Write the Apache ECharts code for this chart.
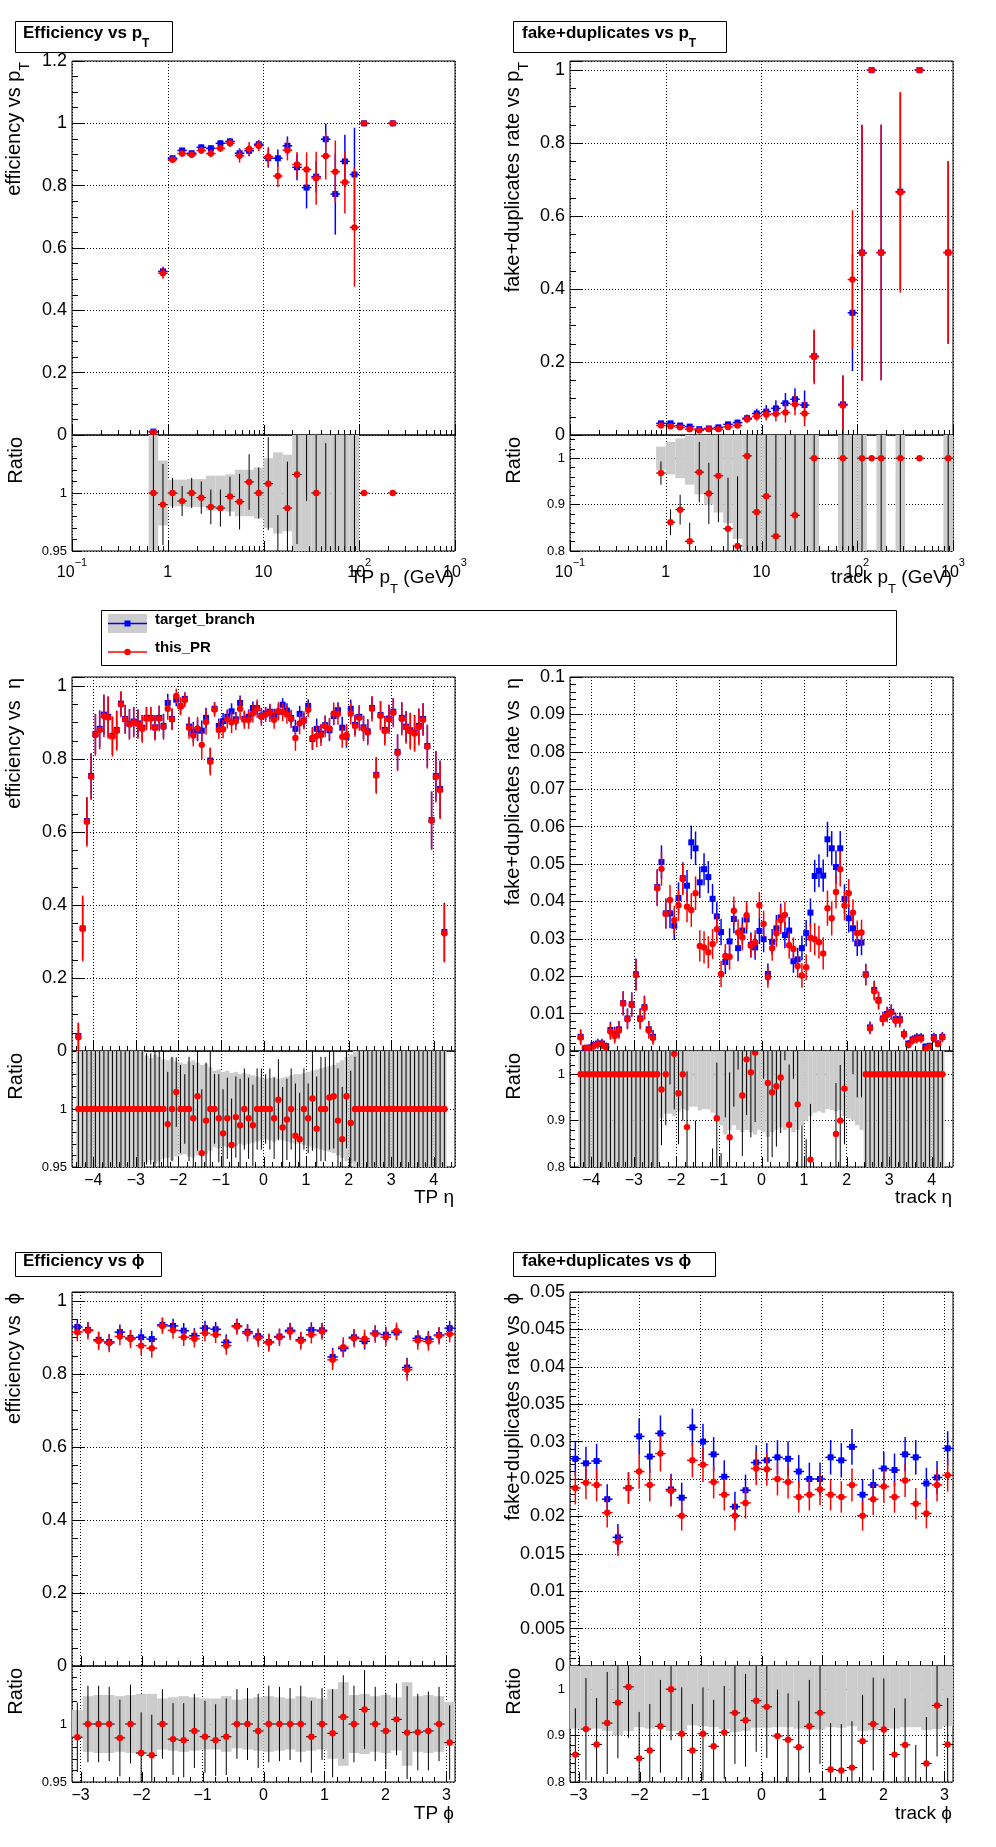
<!DOCTYPE html>
<html>
<head>
<meta charset="utf-8">
<title>tracking validation</title>
<script src="https://cdn.jsdelivr.net/npm/echarts@6.0.0/dist/echarts.min.js"></script>
<style>
  html, body { margin: 0; padding: 0; background: #fff; }
  #chart { width: 996px; height: 1847px; }
</style>
</head>
<body>
<div id="chart"></div>
<script>
// target_branch vs this_PR, efficiency and fake+duplicates rate
var FONT = '"Liberation Sans", Arial, Helvetica, sans-serif';
var BLUE = '#0000ff';
var RED = '#ff0000';
var BAND = '#cccccc';

// ---- pT (GeV), bins 0.1 wide in log10
var ptBinsEff = [0.708, 0.891, 1.122, 1.413, 1.778, 2.239, 2.818, 3.548, 4.467, 5.623, 7.079, 8.913,
  11.22, 14.13, 17.78, 22.39, 28.18, 35.48, 44.67, 56.23, 70.79, 89.13, 112.2, 223.9];
var effPtTarget = [0.011, 0.525, 0.888, 0.913, 0.904, 0.923, 0.920, 0.936, 0.942, 0.904, 0.912, 0.933,
  0.888, 0.888, 0.928, 0.859, 0.794, 0.829, 0.949, 0.773, 0.878, 0.836, 1.0, 1.0];
var effPtTargetErr = [0.004, 0.015, 0.008, 0.008, 0.009, 0.009, 0.010, 0.010, 0.011, 0.016, 0.018, 0.014,
  0.030, 0.028, 0.030, 0.042, 0.067, 0.050, 0.050, 0.130, 0.085, 0.150, 0, 0];
var effPtPR = [0.009, 0.519, 0.883, 0.903, 0.899, 0.913, 0.903, 0.920, 0.936, 0.896, 0.918, 0.928,
  0.893, 0.831, 0.914, 0.868, 0.852, 0.824, 0.895, 0.845, 0.811, 0.666, 1.0, 1.0];
var effPtPRErr = [0.006, 0.018, 0.009, 0.010, 0.010, 0.011, 0.012, 0.012, 0.012, 0.022, 0.022, 0.017,
  0.031, 0.036, 0.033, 0.040, 0.055, 0.085, 0.075, 0.100, 0.100, 0.190, 0, 0];
var effPtRatio = [1.0, 0.990, 1.0, 0.993, 1.0, 0.996, 0.988, 0.987, 0.997, 0.9925, 1.0095, 1.0,
  1.008, 0.936, 0.987, 1.016, 1.073, 1.0, 0.943, 1.093, 0.924, 0.797, 1.0, 1.0];
var effPtRatioErr = [1.0, 0.035, 0.013, 0.013, 0.013, 0.014, 0.015, 0.016, 0.017, 0.024, 0.024, 0.022,
  0.040, 0.045, 0.040, 0.060, 0.080, 0.120, 0.100, 0.150, 0.140, 0.300, 0, 0];
var effPtBand = [1.0, 0.028, 0.0115, 0.0115, 0.012, 0.012, 0.015, 0.015, 0.016, 0.020, 0.020, 0.022,
  0.030, 0.035, 0.033, 0.060, 0.090, 0.070, 0.060, 0.180, 0.100, 0.200, 0, 0];

var ptBinsFake = [0.891, 1.122, 1.413, 1.778, 2.239, 2.818, 3.548, 4.467, 5.623, 7.079, 8.913, 11.22,
  14.13, 17.78, 22.39, 28.18, 35.48, 70.79, 89.13, 112.2, 141.3, 177.8, 281.8, 446.7, 891.3];
var fakePtTarget = [0.032, 0.032, 0.026, 0.023, 0.016, 0.018, 0.021, 0.029, 0.034, 0.046, 0.059, 0.064,
  0.073, 0.087, 0.098, 0.082, 0.216, 0.084, 0.335, 0.5, 1.0, 0.5, 0.667, 1.0, 0.5];
var fakePtTargetErr = [0.004, 0.004, 0.004, 0.004, 0.004, 0.005, 0.006, 0.007, 0.008, 0.010, 0.013, 0.018,
  0.022, 0.028, 0.030, 0.040, 0.070, 0.080, 0.160, 0.350, 0, 0.350, 0.270, 0, 0.250];
var fakePtPR = [0.026, 0.024, 0.021, 0.016, 0.013, 0.016, 0.016, 0.022, 0.026, 0.043, 0.051, 0.056,
  0.058, 0.062, 0.084, 0.059, 0.214, 0.081, 0.426, 0.498, 1.0, 0.5, 0.665, 1.0, 0.5];
var fakePtPRErr = [0.004, 0.004, 0.004, 0.004, 0.004, 0.005, 0.005, 0.006, 0.007, 0.010, 0.012, 0.016,
  0.020, 0.028, 0.030, 0.035, 0.075, 0.080, 0.190, 0.350, 0, 0.350, 0.275, 0, 0.250];
var fakePtRatio = [0.968, 0.862, 0.889, 0.821, 0.970, 0.924, 0.962, 0.848, 0.811, 1.005, 0.884, 0.918,
  0.832, 0.71, 0.877, 0.72, 1.0, 1.0, 1.27, 1.0, 1.0, 1.0, 1.0, 1.0, 1.0];
var fakePtRatioErr = [0.025, 0.028, 0.032, 0.040, 0.065, 0.066, 0.10, 0.11, 0.15, 0.30, 0.30, 0.30,
  0.30, 0.35, 0.35, 0.40, 0.45, 1.0, 1.0, 1.0, 0, 1.0, 0.60, 0, 0.70];
var fakePtBand = [0.025, 0.035, 0.043, 0.057, 0.078, 0.100, 0.117, 0.140, 0.174, 0.25, 0.30, 0.30,
  0.35, 0.40, 0.40, 0.50, 0.40, 1.0, 0.50, 0.70, 0, 0.70, 0.40, 0, 0.50];

// ---- eta, bins 0.1 wide
var etaBins = [-4.35, -4.25, -4.15, -4.05, -3.95, -3.85, -3.75, -3.65, -3.55, -3.45,
  -3.35, -3.25, -3.15, -3.05, -2.95, -2.85, -2.75, -2.65, -2.55, -2.45,
  -2.35, -2.25, -2.15, -2.05, -1.95, -1.85, -1.75, -1.65, -1.55, -1.45,
  -1.35, -1.25, -1.15, -1.05, -0.95, -0.85, -0.75, -0.65, -0.55, -0.45,
  -0.35, -0.25, -0.15, -0.05, 0.05, 0.15, 0.25, 0.35, 0.45, 0.55,
  0.65, 0.75, 0.85, 0.95, 1.05, 1.15, 1.25, 1.35, 1.45, 1.55,
  1.65, 1.75, 1.85, 1.95, 2.05, 2.15, 2.25, 2.35, 2.45, 2.55,
  2.65, 2.75, 2.85, 2.95, 3.05, 3.15, 3.25, 3.35, 3.45, 3.55,
  3.65, 3.75, 3.85, 3.95, 4.05, 4.15, 4.25];
var effEtaTarget = [0.041, 0.336, 0.630, 0.754, 0.869, 0.883, 0.922, 0.916, 0.864, 0.880,
  0.952, 0.910, 0.897, 0.903, 0.898, 0.886, 0.913, 0.913, 0.887, 0.913,
  0.891, 0.954, 0.910, 0.963, 0.945, 0.965, 0.889, 0.874, 0.879, 0.878,
  0.913, 0.796, 0.938, 0.891, 0.904, 0.916, 0.931, 0.909, 0.954, 0.910,
  0.916, 0.940, 0.940, 0.919, 0.925, 0.930, 0.918, 0.930, 0.949, 0.933,
  0.913, 0.883, 0.924, 0.906, 0.946, 0.855, 0.883, 0.870, 0.893, 0.879,
  0.918, 0.934, 0.886, 0.861, 0.938, 0.894, 0.916, 0.887, 0.876, 0.940,
  0.757, 0.921, 0.880, 0.911, 0.930, 0.820, 0.913, 0.889, 0.879, 0.873,
  0.891, 0.910, 0.836, 0.633, 0.754, 0.718, 0.326];
var effEtaTargetErr = [0.035, 0.085, 0.065, 0.062, 0.055, 0.050, 0.055, 0.055, 0.052, 0.052,
  0.033, 0.038, 0.040, 0.040, 0.038, 0.035, 0.030, 0.030, 0.033, 0.033,
  0.033, 0.025, 0.028, 0.018, 0.022, 0.018, 0.025, 0.028, 0.030, 0.028,
  0.028, 0.035, 0.018, 0.020, 0.022, 0.020, 0.022, 0.020, 0.020, 0.020,
  0.020, 0.018, 0.018, 0.020, 0.018, 0.020, 0.020, 0.020, 0.018, 0.020,
  0.020, 0.025, 0.022, 0.020, 0.018, 0.030, 0.028, 0.025, 0.025, 0.030,
  0.025, 0.022, 0.030, 0.030, 0.025, 0.028, 0.030, 0.032, 0.033, 0.030,
  0.048, 0.038, 0.038, 0.038, 0.037, 0.048, 0.043, 0.043, 0.048, 0.048,
  0.048, 0.043, 0.058, 0.078, 0.068, 0.078, 0.080];
var effEtaPR = [0.038, 0.336, 0.628, 0.752, 0.866, 0.880, 0.918, 0.914, 0.862, 0.878,
  0.950, 0.909, 0.895, 0.901, 0.896, 0.883, 0.911, 0.911, 0.886, 0.911,
  0.888, 0.938, 0.909, 0.973, 0.945, 0.962, 0.886, 0.865, 0.884, 0.839,
  0.902, 0.793, 0.936, 0.880, 0.882, 0.909, 0.901, 0.904, 0.938, 0.908,
  0.908, 0.925, 0.938, 0.916, 0.922, 0.927, 0.908, 0.931, 0.929, 0.922,
  0.910, 0.858, 0.898, 0.906, 0.935, 0.858, 0.863, 0.866, 0.890, 0.883,
  0.925, 0.924, 0.861, 0.866, 0.925, 0.891, 0.913, 0.884, 0.873, 0.938,
  0.755, 0.919, 0.877, 0.909, 0.927, 0.817, 0.910, 0.887, 0.876, 0.870,
  0.888, 0.908, 0.834, 0.631, 0.751, 0.715, 0.323];
var effEtaPRErr = [0.040, 0.090, 0.068, 0.064, 0.057, 0.053, 0.058, 0.058, 0.055, 0.055,
  0.035, 0.040, 0.042, 0.042, 0.040, 0.038, 0.032, 0.032, 0.035, 0.035,
  0.035, 0.030, 0.030, 0.020, 0.025, 0.020, 0.030, 0.030, 0.032, 0.040,
  0.035, 0.038, 0.020, 0.025, 0.025, 0.025, 0.030, 0.025, 0.030, 0.025,
  0.025, 0.025, 0.025, 0.025, 0.020, 0.025, 0.025, 0.025, 0.025, 0.025,
  0.025, 0.035, 0.030, 0.025, 0.020, 0.030, 0.030, 0.030, 0.030, 0.030,
  0.030, 0.030, 0.030, 0.030, 0.030, 0.030, 0.035, 0.035, 0.035, 0.035,
  0.050, 0.040, 0.040, 0.040, 0.040, 0.050, 0.045, 0.045, 0.050, 0.050,
  0.050, 0.045, 0.060, 0.080, 0.070, 0.080, 0.080];
var effEtaRatio = [1, 1, 1, 1, 1, 1, 1, 1, 1, 1,
  1, 1, 1, 1, 1, 1, 1, 1, 1, 1,
  1, 0.987, 1.0, 1.0146, 1.0, 1.0, 1.0, 0.992, 1.011, 0.962,
  0.990, 1.0, 1.0, 0.992, 0.979, 0.992, 0.969, 0.993, 0.986, 1.0,
  0.992, 0.986, 1.0, 1.0, 1.0, 1.0, 0.992, 1.008, 0.984, 0.991,
  1.0, 0.977, 0.974, 1.0, 0.992, 1.009, 0.983, 1.0, 1.0, 1.01,
  1.011, 0.99, 0.974, 1.011, 0.988, 1, 1, 1, 1, 1,
  1, 1, 1, 1, 1, 1, 1, 1, 1, 1,
  1, 1, 1, 1, 1, 1, 1];
var effEtaRatioErr = [0.10, 0.10, 0.10, 0.09, 0.08, 0.075, 0.08, 0.08, 0.075, 0.075,
  0.05, 0.06, 0.06, 0.06, 0.06, 0.055, 0.048, 0.048, 0.05, 0.05,
  0.05, 0.045, 0.045, 0.03, 0.038, 0.03, 0.045, 0.046, 0.047, 0.055,
  0.05, 0.06, 0.03, 0.038, 0.038, 0.035, 0.04, 0.035, 0.04, 0.035,
  0.035, 0.035, 0.035, 0.035, 0.03, 0.035, 0.035, 0.035, 0.035, 0.035,
  0.035, 0.045, 0.04, 0.035, 0.03, 0.045, 0.045, 0.045, 0.045, 0.045,
  0.045, 0.045, 0.045, 0.045, 0.045, 0.045, 0.05, 0.05, 0.05, 0.05,
  0.08, 0.055, 0.055, 0.055, 0.055, 0.07, 0.06, 0.06, 0.07, 0.07,
  0.07, 0.06, 0.08, 0.15, 0.10, 0.12, 0.30];
var effEtaBand = [0.1, 0.1, 0.1, 0.1, 0.1, 0.1, 0.1, 0.1, 0.1, 0.1,
  0.1, 0.1, 0.1, 0.1, 0.1, 0.1, 0.046, 0.044, 0.047, 0.045,
  0.043, 0.042, 0.044, 0.041, 0.040, 0.039, 0.041, 0.042, 0.040, 0.038,
  0.039, 0.036, 0.033, 0.034, 0.032, 0.033, 0.031, 0.032, 0.030, 0.031,
  0.030, 0.029, 0.028, 0.027, 0.026, 0.027, 0.028, 0.026, 0.027, 0.028,
  0.029, 0.030, 0.030, 0.031, 0.032, 0.033, 0.034, 0.035, 0.036, 0.037,
  0.038, 0.040, 0.042, 0.045, 0.047, 0.050, 0.1, 0.1, 0.1, 0.1,
  0.1, 0.1, 0.1, 0.1, 0.1, 0.1, 0.1, 0.1, 0.1, 0.1,
  0.1, 0.1, 0.1, 0.1, 0.1, 0.1, 0.1];

var fakeEtaTarget = [null, 0.0038, 0.0007, 0.0009, 0.0016, 0.0020, 0.0020, 0.0013, 0.0056, 0.0045,
  0.0058, 0.0128, 0.0087, 0.0125, 0.0205, 0.0087, 0.0117, 0.0058, 0.0038, 0.0438,
  0.0505, 0.0368, 0.0368, 0.0335, 0.0409, 0.0462, 0.0442, 0.0558, 0.0542, 0.0451,
  0.0486, 0.0465, 0.0407, 0.0360, 0.0318, 0.0238, 0.0293, 0.0353, 0.0275, 0.0322,
  0.0352, 0.0284, 0.0277, 0.0321, 0.0299, 0.0206, 0.0292, 0.0328, 0.0357, 0.0310,
  0.0322, 0.0240, 0.0245, 0.0275, 0.0315, 0.0370, 0.0468, 0.0482, 0.0469, 0.0566,
  0.0542, 0.0492, 0.0542, 0.0406, 0.0355, 0.0328, 0.0288, 0.0290, 0.0205, 0.0063,
  0.0163, 0.0136, 0.0087, 0.0099, 0.0105, 0.0085, 0.0085, 0.0045, 0.0020, 0.0031,
  0.0036, 0.0036, 0.0012, 0.0014, 0.0037, 0.0020, 0.0038];
var fakeEtaPR = [null, 0.0036, 0.0009, 0.0009, 0.0013, 0.0019, 0.0018, 0.0010, 0.0052, 0.0040,
  0.0055, 0.0127, 0.0085, 0.0123, 0.0203, 0.0085, 0.0115, 0.0055, 0.0035, 0.0435,
  0.0487, 0.0367, 0.0404, 0.0350, 0.0390, 0.0460, 0.0386, 0.0377, 0.0422, 0.0281,
  0.0277, 0.0264, 0.0286, 0.0326, 0.0206, 0.0254, 0.0252, 0.0375, 0.0317, 0.0304,
  0.0363, 0.0282, 0.0290, 0.0390, 0.0340, 0.0197, 0.0275, 0.0315, 0.0350, 0.0364,
  0.0283, 0.0273, 0.0227, 0.0202, 0.0224, 0.0303, 0.0299, 0.0291, 0.0261, 0.0382,
  0.0355, 0.0425, 0.0486, 0.0389, 0.0422, 0.0370, 0.0315, 0.0317, 0.0203, 0.0061,
  0.0160, 0.0134, 0.0085, 0.0096, 0.0103, 0.0081, 0.0081, 0.0044, 0.0016, 0.0028,
  0.0032, 0.0033, 0.0007, 0.0012, 0.0034, 0.0019, 0.0036];
var fakeEtaErr = [null, 0.0020, 0.0007, 0.0008, 0.0011, 0.0013, 0.0013, 0.0010, 0.0022, 0.0020,
  0.0022, 0.0032, 0.0027, 0.0032, 0.0042, 0.0027, 0.0031, 0.0022, 0.0018, 0.0048,
  0.0045, 0.0040, 0.0040, 0.0038, 0.0042, 0.0043, 0.0042, 0.0045, 0.0045, 0.0042,
  0.0043, 0.0043, 0.0040, 0.0038, 0.0035, 0.0032, 0.0035, 0.0038, 0.0035, 0.0035,
  0.0038, 0.0033, 0.0033, 0.0035, 0.0035, 0.0028, 0.0034, 0.0036, 0.0037, 0.0035,
  0.0036, 0.0031, 0.0031, 0.0033, 0.0035, 0.0038, 0.0043, 0.0044, 0.0043, 0.0047,
  0.0046, 0.0044, 0.0046, 0.0040, 0.0038, 0.0036, 0.0034, 0.0034, 0.0028, 0.0016,
  0.0025, 0.0023, 0.0018, 0.0019, 0.0020, 0.0018, 0.0018, 0.0013, 0.0009, 0.0011,
  0.0012, 0.0012, 0.0007, 0.0008, 0.0012, 0.0009, 0.0013];
var fakeEtaRatio = [null, 1, 1, 1, 1, 1, 1, 1, 1, 1,
  1, 1, 1, 1, 1, 1, 1, 1, 1, 1,
  0.967, 1.0, 1.098, 1.044, 0.959, 1.0, 0.886, 0.676, 0.78, 0.62,
  0.57, 0.57, 0.70, 0.905, 0.65, 1.067, 0.864, 1.06, 1.15, 0.954,
  1.032, 1.004, 1.047, 1.21, 1.14, 0.981, 0.961, 0.974, 0.993, 1.17,
  0.891, 1.14, 0.935, 0.73, 0.71, 0.816, 0.64, 0.60, 0.56, 0.67,
  0.65, 0.871, 0.9, 0.969, 1.19, 1.13, 1.09, 1.09, 1, 1,
  1, 1, 1, 1, 1, 1, 1, 1, 1, 1,
  1, 1, 1, 1, 1, 1, 1];
var fakeEtaRatioErr = [null, 0.5, 0.5, 0.5, 0.5, 0.5, 0.5, 0.5, 0.5, 0.5,
  0.5, 0.5, 0.5, 0.5, 0.5, 0.5, 0.5, 0.5, 0.5, 0.5,
  0.12, 0.11, 0.12, 0.12, 0.11, 0.10, 0.12, 0.12, 0.12, 0.15,
  0.15, 0.16, 0.14, 0.12, 0.18, 0.16, 0.14, 0.13, 0.14, 0.13,
  0.12, 0.14, 0.15, 0.14, 0.15, 0.17, 0.14, 0.13, 0.12, 0.14,
  0.13, 0.15, 0.15, 0.16, 0.15, 0.12, 0.12, 0.12, 0.12, 0.11,
  0.12, 0.11, 0.12, 0.12, 0.13, 0.13, 0.14, 0.14, 0.5, 0.5,
  0.5, 0.5, 0.5, 0.5, 0.5, 0.5, 0.5, 0.5, 0.5, 0.5,
  0.5, 0.5, 0.5, 0.5, 0.5, 0.5, 0.5];
var fakeEtaBand = [null, 1, 1, 1, 1, 1, 1, 1, 1, 1,
  1, 1, 1, 1, 1, 1, 1, 1, 1, 1,
  0.095, 0.085, 0.085, 0.09, 0.08, 0.075, 0.078, 0.07, 0.07, 0.078,
  0.075, 0.076, 0.083, 0.095, 0.11, 0.13, 0.12, 0.11, 0.12, 0.125,
  0.12, 0.125, 0.13, 0.12, 0.125, 0.135, 0.125, 0.12, 0.115, 0.12,
  0.115, 0.125, 0.12, 0.11, 0.10, 0.09, 0.083, 0.08, 0.083, 0.075,
  0.077, 0.08, 0.077, 0.09, 0.095, 0.10, 0.11, 0.12, 1, 1,
  1, 1, 1, 1, 1, 1, 1, 1, 1, 1,
  1, 1, 1, 1, 1, 1, 1];

// ---- phi, 36 bins over [-pi, pi]
var phiBins = [-3.054, -2.880, -2.705, -2.531, -2.356, -2.182, -2.007, -1.833, -1.658, -1.484,
  -1.309, -1.134, -0.960, -0.785, -0.611, -0.436, -0.262, -0.087, 0.087, 0.262,
  0.436, 0.611, 0.785, 0.960, 1.134, 1.309, 1.484, 1.658, 1.833, 2.007,
  2.182, 2.356, 2.531, 2.705, 2.880, 3.054];
var effPhiTarget = [0.929, 0.921, 0.894, 0.888, 0.915, 0.899, 0.901, 0.896, 0.935, 0.932,
  0.919, 0.905, 0.926, 0.923, 0.887, 0.932, 0.916, 0.904, 0.888, 0.903,
  0.920, 0.894, 0.921, 0.920, 0.847, 0.870, 0.901, 0.890, 0.912, 0.908,
  0.914, 0.818, 0.898, 0.896, 0.907, 0.926];
var effPhiTargetErr = [0.022, 0.021, 0.022, 0.022, 0.021, 0.022, 0.022, 0.022, 0.020, 0.020,
  0.021, 0.021, 0.020, 0.020, 0.022, 0.020, 0.021, 0.021, 0.022, 0.021,
  0.021, 0.022, 0.021, 0.021, 0.025, 0.024, 0.022, 0.023, 0.021, 0.022,
  0.021, 0.027, 0.022, 0.022, 0.021, 0.020];
var effPhiPR = [0.915, 0.919, 0.891, 0.885, 0.903, 0.896, 0.878, 0.871, 0.932, 0.920,
  0.901, 0.897, 0.912, 0.908, 0.878, 0.930, 0.912, 0.899, 0.886, 0.901,
  0.916, 0.891, 0.908, 0.917, 0.839, 0.874, 0.898, 0.897, 0.910, 0.901,
  0.918, 0.812, 0.892, 0.889, 0.905, 0.910];
var effPhiPRErr = [0.025, 0.024, 0.025, 0.025, 0.024, 0.025, 0.026, 0.026, 0.022, 0.023,
  0.024, 0.024, 0.023, 0.023, 0.025, 0.022, 0.023, 0.024, 0.025, 0.024,
  0.023, 0.024, 0.024, 0.023, 0.028, 0.027, 0.025, 0.025, 0.024, 0.025,
  0.023, 0.030, 0.025, 0.025, 0.024, 0.023];
var effPhiRatio = [0.9886, 1.0, 1.0, 1.0, 0.988, 1.0, 0.975, 0.973, 1.0, 0.987,
  0.986, 0.994, 0.989, 0.986, 0.989, 1.0, 1.0, 0.994, 1.0, 1.0,
  1.0, 1.0, 0.989, 1.0, 0.992, 1.006, 1.0, 1.0125, 1.0, 0.994,
  1.004, 0.9926, 0.993, 0.994, 1.0, 0.984];
var effPhiRatioErr = [0.030, 0.033, 0.033, 0.032, 0.033, 0.034, 0.035, 0.035, 0.030, 0.031,
  0.032, 0.032, 0.031, 0.031, 0.033, 0.030, 0.031, 0.032, 0.033, 0.032,
  0.031, 0.033, 0.031, 0.031, 0.038, 0.036, 0.033, 0.034, 0.032, 0.033,
  0.031, 0.040, 0.033, 0.034, 0.032, 0.032];
var effPhiBand = [0.012, 0.024, 0.025, 0.025, 0.024, 0.025, 0.026, 0.026, 0.022, 0.023,
  0.024, 0.023, 0.022, 0.022, 0.024, 0.021, 0.022, 0.023, 0.024, 0.023,
  0.022, 0.024, 0.023, 0.022, 0.030, 0.036, 0.025, 0.026, 0.024, 0.025,
  0.023, 0.036, 0.024, 0.025, 0.024, 0.019];

var fakePhiTarget = [0.0277, 0.0271, 0.0274, 0.0223, 0.0172, 0.0238, 0.0307, 0.0280, 0.0311, 0.0236,
  0.0225, 0.0319, 0.0300, 0.0283, 0.0253, 0.0213, 0.0235, 0.0272, 0.0275, 0.0279,
  0.0277, 0.0260, 0.0250, 0.0250, 0.0279, 0.0275, 0.0293, 0.0229, 0.0242, 0.0264,
  0.0262, 0.0283, 0.0279, 0.0244, 0.0252, 0.0291];
var fakePhiTargetErr = [0.0023, 0.0022, 0.0023, 0.0020, 0.0018, 0.0021, 0.0024, 0.0022, 0.0024, 0.0021,
  0.0020, 0.0025, 0.0024, 0.0023, 0.0022, 0.0020, 0.0021, 0.0023, 0.0023, 0.0023,
  0.0023, 0.0022, 0.0022, 0.0022, 0.0023, 0.0023, 0.0024, 0.0021, 0.0021, 0.0022,
  0.0022, 0.0023, 0.0023, 0.0021, 0.0022, 0.0023];
var fakePhiPR = [0.0238, 0.0245, 0.0242, 0.0205, 0.0166, 0.0238, 0.0260, 0.0242, 0.0284, 0.0234,
  0.0201, 0.0275, 0.0269, 0.0246, 0.0229, 0.0201, 0.0218, 0.0264, 0.0263, 0.0250,
  0.0246, 0.0226, 0.0229, 0.0236, 0.0229, 0.0226, 0.0242, 0.0201, 0.0223, 0.0240,
  0.0226, 0.0248, 0.0217, 0.0204, 0.0242, 0.0255];
var fakePhiPRErr = [0.0022, 0.0022, 0.0022, 0.0020, 0.0019, 0.0021, 0.0023, 0.0022, 0.0024, 0.0021,
  0.0020, 0.0023, 0.0023, 0.0022, 0.0021, 0.0020, 0.0021, 0.0022, 0.0022, 0.0022,
  0.0022, 0.0021, 0.0021, 0.0021, 0.0021, 0.0021, 0.0022, 0.0020, 0.0021, 0.0022,
  0.0021, 0.0022, 0.0021, 0.0020, 0.0022, 0.0022];
var fakePhiRatio = [0.859, 0.914, 0.881, 0.927, 0.971, 1.005, 0.851, 0.868, 0.920, 1.0,
  0.904, 0.868, 0.904, 0.877, 0.907, 0.949, 0.933, 0.975, 0.962, 0.899,
  0.891, 0.875, 0.920, 0.949, 0.827, 0.825, 0.831, 0.888, 0.925, 0.913,
  0.859, 0.880, 0.78, 0.840, 0.965, 0.881];
var fakePhiRatioErr = [0.10, 0.11, 0.10, 0.11, 0.12, 0.11, 0.10, 0.10, 0.10, 0.11,
  0.10, 0.10, 0.10, 0.10, 0.10, 0.11, 0.10, 0.11, 0.11, 0.10,
  0.10, 0.10, 0.10, 0.11, 0.10, 0.10, 0.10, 0.10, 0.10, 0.11,
  0.10, 0.10, 0.10, 0.10, 0.11, 0.10];
var fakePhiBand = [0.085, 0.085, 0.085, 0.090, 0.100, 0.090, 0.082, 0.085, 0.080, 0.090,
  0.090, 0.078, 0.080, 0.082, 0.086, 0.092, 0.090, 0.083, 0.083, 0.082,
  0.082, 0.085, 0.087, 0.087, 0.082, 0.083, 0.080, 0.090, 0.088, 0.084,
  0.085, 0.082, 0.082, 0.088, 0.086, 0.080];

// ---- helpers
function binData(xs, ys, es, half, isLog) {
  var out = [];
  for (var i = 0; i < xs.length; i++) {
    if (ys[i] == null) continue;
    var lo = isLog ? xs[i] / Math.pow(10, half) : xs[i] - half;
    var hi = isLog ? xs[i] * Math.pow(10, half) : xs[i] + half;
    out.push([xs[i], ys[i], es[i] || 0, lo, hi]);
  }
  return out;
}

function measRender(color, marker, barColor, lw) {
  return function (params, api) {
    var x = api.value(0), y = api.value(1), e = api.value(2);
    var c = api.coord([x, y]);
    var l = api.coord([api.value(3), y]);
    var r = api.coord([api.value(4), y]);
    var kids = [{type: 'line', shape: {x1: l[0], y1: c[1], x2: r[0], y2: c[1]}, style: {stroke: barColor, lineWidth: lw}}];
    if (e > 0) {
      var t = api.coord([x, y + e]), b = api.coord([x, y - e]);
      kids.push({type: 'line', shape: {x1: c[0], y1: t[1], x2: c[0], y2: b[1]}, style: {stroke: barColor, lineWidth: lw}});
    }
    if (marker === 'square') {
      kids.push({type: 'rect', shape: {x: c[0] - 3, y: c[1] - 3, width: 6, height: 6}, style: {fill: color}});
    } else {
      kids.push({type: 'circle', shape: {cx: c[0], cy: c[1], r: 3.2}, style: {fill: color}});
    }
    return {type: 'group', children: kids};
  };
}

function bandRender(params, api) {
  var b = api.value(1);
  if (!(b > 0)) return null;
  var p1 = api.coord([api.value(3), 1 + b]);
  var p2 = api.coord([api.value(4), 1 - b]);
  return {type: 'rect', shape: {x: p1[0], y: p1[1], width: p2[0] - p1[0], height: p2[1] - p1[1]}, style: {fill: BAND}};
}

function tickRender(params, api) {
  var p = api.coord([api.value(0), api.value(1)]);
  var x = Math.round(p[0]) + 0.5;
  return {type: 'line', shape: {x1: x, y1: p[1], x2: x, y2: p[1] - api.value(2)}, style: {stroke: '#000', lineWidth: 1}};
}

function custom(idx, data, render, z, clip) {
  return {type: 'custom', xAxisIndex: idx, yAxisIndex: idx, data: data, renderItem: render,
    clip: clip !== false, silent: true, z: z, animation: false};
}

function logLabel(v) {
  var e = Math.round(Math.log(v) / Math.LN10);
  if (e === 0) return '{b|1}';
  if (e === 1) return '{b|10}';
  return '{b|10}{s|' + (e < 0 ? '\u2212' + (-e) : e) + '}';
}

function tickPositions(kind) {
  var out = [];
  if (kind === 'log') {
    for (var d = -1; d <= 2; d++) {
      for (var m = 1; m <= 9; m++) out.push([m * Math.pow(10, d), m === 1]);
    }
    out.push([1000, true]);
  } else {
    var n = kind === 'eta' ? 22 : 15;
    for (var i = -n; i <= n; i++) out.push([i / 5, i % 5 === 0]);
  }
  return out;
}

var dotted = {color: '#000', type: [1, 2], width: 1};

var panels = [
  {left: 72, top: 61, split: 435, bottom: 551, kind: 'log', xMin: 0.1, xMax: 1000, half: 0.05,
    yMax: 1.2, yInt: 0.2, yMinor: 4, showMax: true, rMin: 0.95, rInt: 0.05,
    x: ptBinsEff, t: effPtTarget, te: effPtTargetErr, p: effPtPR, pe: effPtPRErr,
    r: effPtRatio, re: effPtRatioErr, band: effPtBand},
  {left: 570, top: 61, split: 435, bottom: 551, kind: 'log', xMin: 0.1, xMax: 1000, half: 0.05,
    yMax: 1.025, yInt: 0.2, yMinor: 4, showMax: false, rMin: 0.8, rInt: 0.1,
    x: ptBinsFake, t: fakePtTarget, te: fakePtTargetErr, p: fakePtPR, pe: fakePtPRErr,
    r: fakePtRatio, re: fakePtRatioErr, band: fakePtBand},
  {left: 72, top: 677, split: 1051, bottom: 1167, kind: 'eta', xMin: -4.5, xMax: 4.5, xSplit: 9, half: 0.05,
    yMax: 1.025, yInt: 0.2, yMinor: 4, showMax: false, rMin: 0.95, rInt: 0.05,
    x: etaBins, t: effEtaTarget, te: effEtaTargetErr, p: effEtaPR, pe: effEtaPRErr,
    r: effEtaRatio, re: effEtaRatioErr, band: effEtaBand},
  {left: 570, top: 677, split: 1051, bottom: 1167, kind: 'eta', xMin: -4.5, xMax: 4.5, xSplit: 9, half: 0.05,
    yMax: 0.1, yInt: 0.01, yMinor: 5, showMax: true, rMin: 0.8, rInt: 0.1,
    x: etaBins, t: fakeEtaTarget, te: fakeEtaErr, p: fakeEtaPR, pe: fakeEtaErr,
    r: fakeEtaRatio, re: fakeEtaRatioErr, band: fakeEtaBand},
  {left: 72, top: 1292, split: 1666, bottom: 1782, kind: 'phi', xMin: -Math.PI, xMax: Math.PI, xSplit: 6, half: Math.PI / 36,
    yMax: 1.025, yInt: 0.2, yMinor: 4, showMax: false, rMin: 0.95, rInt: 0.05,
    x: phiBins, t: effPhiTarget, te: effPhiTargetErr, p: effPhiPR, pe: effPhiPRErr,
    r: effPhiRatio, re: effPhiRatioErr, band: effPhiBand},
  {left: 570, top: 1292, split: 1666, bottom: 1782, kind: 'phi', xMin: -Math.PI, xMax: Math.PI, xSplit: 6, half: Math.PI / 36,
    yMax: 0.05, yInt: 0.005, yMinor: 5, showMax: true, rMin: 0.8, rInt: 0.1,
    x: phiBins, t: fakePhiTarget, te: fakePhiTargetErr, p: fakePhiPR, pe: fakePhiPRErr,
    r: fakePhiRatio, re: fakePhiRatioErr, band: fakePhiBand}
];

var option = {animation: false, backgroundColor: '#fff', grid: [], xAxis: [], yAxis: [], series: [], graphic: []};

panels.forEach(function (p) {
  var gm = option.grid.length, gr = gm + 1;
  var isLog = p.kind === 'log';
  var gridBase = {left: p.left, width: 383, show: true, borderColor: '#000', borderWidth: 1,
    backgroundColor: 'transparent', containLabel: false, outerBoundsMode: 'none'};
  option.grid.push(Object.assign({top: p.top, height: p.split - p.top}, gridBase));
  option.grid.push(Object.assign({top: p.split, height: p.bottom - p.split}, gridBase));

  [gm, gr].forEach(function (g) {
    var ratio = g === gr;
    var ax = {gridIndex: g, type: isLog ? 'log' : 'value', min: p.xMin, max: p.xMax,
      axisLine: {show: false, onZero: false}, axisTick: {show: false}, minorTick: {show: false},
      splitLine: {show: true, lineStyle: dotted},
      axisLabel: {show: ratio, color: '#000', fontFamily: FONT, fontSize: 16, margin: 6,
        showMinLabel: isLog, showMaxLabel: isLog}};
    if (isLog) {
      ax.logBase = 10;
      ax.axisLabel.formatter = logLabel;
      ax.axisLabel.rich = {
        b: {fontSize: 16, fontFamily: FONT, color: '#000', lineHeight: 24, verticalAlign: 'bottom'},
        s: {fontSize: 11, fontFamily: FONT, color: '#000', lineHeight: 13, verticalAlign: 'top'}
      };
    } else {
      ax.splitNumber = p.xSplit;
      ax.axisLabel.formatter = function (v) { return String(Math.round(v)).replace('-', '\u2212'); };
    }
    option.xAxis.push(ax);
  });

  option.yAxis.push({gridIndex: gm, type: 'value', min: 0, max: p.yMax, interval: p.yInt,
    axisLine: {show: false, onZero: false},
    axisTick: {show: true, inside: true, length: 12, lineStyle: {color: '#000'}},
    minorTick: {show: true, splitNumber: p.yMinor, length: 6, lineStyle: {color: '#000'}},
    splitLine: {show: true, lineStyle: dotted},
    axisLabel: {color: '#000', fontFamily: FONT, fontSize: 18, margin: 5, showMaxLabel: p.showMax}});
  option.yAxis.push({gridIndex: gr, type: 'value', min: p.rMin, max: 1.05, interval: p.rInt,
    axisLine: {show: false, onZero: false},
    axisTick: {show: true, inside: true, length: 9, lineStyle: {color: '#000'}},
    minorTick: {show: true, splitNumber: 5, length: 5, lineStyle: {color: '#000'}},
    splitLine: {show: true, lineStyle: dotted},
    axisLabel: {color: '#000', fontFamily: FONT, fontSize: 13, margin: 5, showMaxLabel: false}});

  // main pad: target first, this_PR on top
  option.series.push(custom(gm, binData(p.x, p.t, p.te, p.half, isLog), measRender(BLUE, 'square', BLUE, 1.5), 3));
  option.series.push(custom(gm, binData(p.x, p.p, p.pe, p.half, isLog), measRender(RED, 'circle', RED, 1.5), 4));
  // ratio pad
  option.series.push(custom(gr, binData(p.x, p.band, p.band, p.half, isLog), bandRender, 1));
  option.series.push(custom(gr, binData(p.x, p.r, p.re, p.half, isLog), measRender(RED, 'circle', '#000', 1), 4));

  // x ticks on both pads
  var ticks = tickPositions(p.kind);
  [[gm, 0], [gr, p.rMin]].forEach(function (pair) {
    option.series.push(custom(pair[0], ticks.map(function (t) { return [t[0], pair[1], t[1] ? 10 : 5]; }), tickRender, 5, false));
  });
});

// ---- texts
function rich(size, bold) {
  var w = bold ? 'bold' : 'normal';
  return {
    n: {fontSize: size, fontWeight: w, fontFamily: FONT, fill: '#000', lineHeight: size + 8, verticalAlign: 'top'},
    s: {fontSize: Math.round(size * 0.7), fontWeight: w, fontFamily: FONT, fill: '#000', lineHeight: Math.round(size * 0.7) + 2, verticalAlign: 'bottom'}
  };
}
function label(x, y, text, size, bold, align, rotated) {
  return {type: 'text', x: x, y: y, rotation: rotated ? Math.PI / 2 : 0, z: 10,
    style: {text: text, rich: rich(size, bold), align: align, verticalAlign: 'middle',
      fontSize: size, fontFamily: FONT, fontWeight: bold ? 'bold' : 'normal', fill: '#000'}};
}
function box(x, y, w, h) {
  return {type: 'rect', z: 9, shape: {x: x + 0.5, y: y + 0.5, width: w, height: h}, style: {fill: '#fff', stroke: '#000', lineWidth: 1}};
}

var g = option.graphic;
// pad titles
g.push(box(15, 21, 157, 31), label(23, 37, '{n|Efficiency vs p}{s|T}', 17, true, 'left'));
g.push(box(513, 21, 213, 31), label(522, 37, '{n|fake+duplicates vs p}{s|T}', 17, true, 'left'));
g.push(box(15, 1252, 146, 24), label(23, 1265, '{n|Efficiency vs \u03d5}', 17, true, 'left'));
g.push(box(513, 1252, 202, 24), label(522, 1265, '{n|fake+duplicates vs \u03d5}', 17, true, 'left'));

// y titles
g.push(label(18, 62, '{n|efficiency vs p}{s|T}', 20, false, 'right', true));
g.push(label(517, 62, '{n|fake+duplicates rate vs p}{s|T}', 20, false, 'right', true));
g.push(label(18, 678, '{n|efficiency vs  \u03b7}', 20, false, 'right', true));
g.push(label(517, 678, '{n|fake+duplicates rate vs  \u03b7}', 20, false, 'right', true));
g.push(label(18, 1293, '{n|efficiency vs  \u03d5}', 20, false, 'right', true));
g.push(label(517, 1293, '{n|fake+duplicates rate vs  \u03d5}', 20, false, 'right', true));
[[20, 437], [518, 437], [20, 1053], [518, 1053], [20, 1668], [518, 1668]].forEach(function (q) {
  g.push(label(q[0], q[1], '{n|Ratio}', 20, false, 'right', true));
});

// x titles
g.push(label(454, 582, '{n|TP p}{s|T}{n| (GeV)}', 19, false, 'right'));
g.push(label(952, 582, '{n|track p}{s|T}{n| (GeV)}', 19, false, 'right'));
g.push(label(454, 1202, '{n|TP \u03b7}', 19, false, 'right'));
g.push(label(952, 1202, '{n|track \u03b7}', 19, false, 'right'));
g.push(label(454, 1818, '{n|TP \u03d5}', 19, false, 'right'));
g.push(label(952, 1818, '{n|track \u03d5}', 19, false, 'right'));

// legend
g.push(box(101, 610, 795, 55));
g.push({type: 'rect', z: 10, shape: {x: 108, y: 614, width: 39, height: 19}, style: {fill: BAND}});
g.push({type: 'line', z: 11, shape: {x1: 108, y1: 623.5, x2: 147, y2: 623.5}, style: {stroke: BLUE, lineWidth: 1.5}});
g.push({type: 'rect', z: 11, shape: {x: 124.5, y: 620.5, width: 6, height: 6}, style: {fill: BLUE}});
g.push(label(155, 624, '{n|target_branch}', 15, true, 'left'));
g.push({type: 'line', z: 11, shape: {x1: 108, y1: 652, x2: 147, y2: 652}, style: {stroke: RED, lineWidth: 1.5}});
g.push({type: 'circle', z: 11, shape: {cx: 127.5, cy: 652, r: 3.2}, style: {fill: RED}});
g.push(label(155, 652, '{n|this_PR}', 15, true, 'left'));

var chart = echarts.init(document.getElementById('chart'));
chart.setOption(option);
</script>
</body>
</html>
